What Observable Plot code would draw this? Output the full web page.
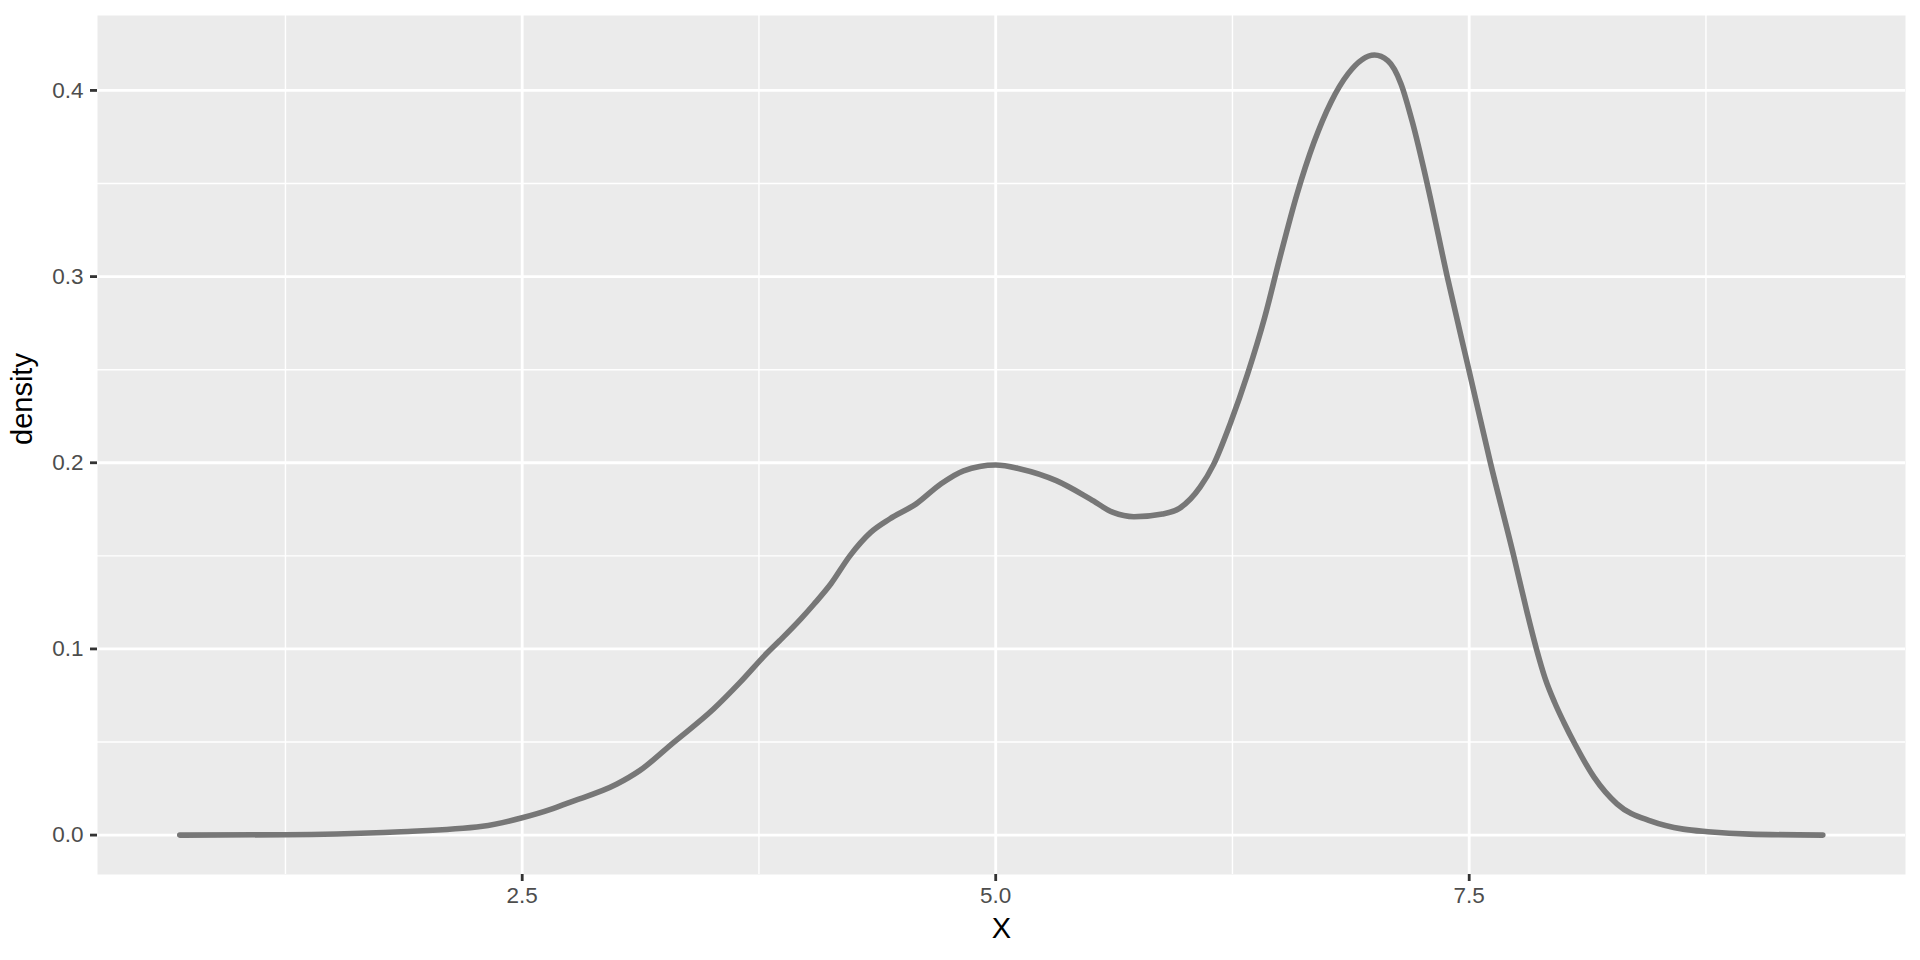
<!DOCTYPE html>
<html><head><meta charset="utf-8">
<script src="https://cdn.jsdelivr.net/npm/d3@7"></script>
<script src="https://cdn.jsdelivr.net/npm/@observablehq/plot@0.6"></script>
<style>html,body{margin:0;padding:0;background:#fff;} svg{display:block;}</style>
</head><body><div id="chart"></div>
<script>
// density curve values
const xs = [0.692, 1.25, 1.77, 1.86, 2.29, 2.5, 2.65, 2.74, 3.0, 3.12, 3.30, 3.51, 3.65, 3.79, 3.86, 3.97, 4.04, 4.13, 4.23, 4.34, 4.44, 4.58, 4.71, 4.83, 5.0, 5.13, 5.32, 5.50, 5.62, 5.73, 5.88, 5.97, 6.08, 6.15, 6.24, 6.33, 6.42, 6.50, 6.59, 6.68, 6.77, 6.86, 7.0, 7.07, 7.14, 7.20, 7.278, 7.384, 7.498, 7.612, 7.735, 7.80, 7.855, 7.90, 7.95, 8.00, 8.06, 8.16, 8.28, 8.46, 8.63, 8.76, 8.98, 9.367];
const ys = [0, 0.0002, 0.0014, 0.0018, 0.0047, 0.0093, 0.0138, 0.0172, 0.0274, 0.0346, 0.0498, 0.0677, 0.082, 0.0975, 0.1045, 0.1160, 0.124, 0.135, 0.150, 0.1626, 0.1698, 0.1779, 0.1886, 0.1957, 0.1988, 0.1967, 0.1904, 0.1805, 0.1733, 0.171, 0.1725, 0.1755, 0.1870, 0.1990, 0.2215, 0.2477, 0.278, 0.310, 0.344, 0.372, 0.3937, 0.4089, 0.4190, 0.416, 0.4035, 0.383, 0.350, 0.300, 0.250, 0.200, 0.150, 0.122, 0.100, 0.0845, 0.0715, 0.0605, 0.0485, 0.031, 0.0168, 0.0075, 0.0032, 0.0018, 0.0005, 0];
const xMajor = [2.5, 5.0, 7.5];
const xMinor = [1.25, 3.75, 6.25, 8.75];
const yMajor = [0, 0.1, 0.2, 0.3, 0.4];
const yMinor = [0.05, 0.15, 0.25, 0.35];
const xTitle = "X";
const yTitle = "density";

const data = xs.map((x, i) => ({x, y: ys[i]}));

const chart = Plot.plot({
  width: 1920, height: 960,
  marginLeft: 97, marginRight: 15, marginTop: 15, marginBottom: 86,
  style: {fontFamily: "'Liberation Sans', Arial, sans-serif", background: "#fff", overflow: "visible"},
  x: {domain: [0.2576, 9.8036]},
  y: {domain: [-0.02117, 0.44025]},
  marks: [
    Plot.frame({fill: "#EBEBEB", stroke: null}),
    Plot.ruleX(xMinor, {stroke: "#fff", strokeWidth: 1.4}),
    Plot.ruleY(yMinor, {stroke: "#fff", strokeWidth: 1.4}),
    Plot.ruleX(xMajor, {stroke: "#fff", strokeWidth: 2.8}),
    Plot.ruleY(yMajor, {stroke: "#fff", strokeWidth: 2.8}),
    Plot.axisX(xMajor, {tickSize: 7, tickPadding: 6, fontSize: 22.5, tickFormat: d => d.toFixed(1), label: null, stroke: "#333333", strokeWidth: 2.8, fill: "#4D4D4D"}),
    Plot.axisY(yMajor, {tickSize: 7, tickPadding: 7, fontSize: 22.5, tickFormat: d => d.toFixed(1), label: null, stroke: "#333333", strokeWidth: 2.8, fill: "#4D4D4D"}),
    Plot.line(data, {x: "x", y: "y", stroke: "#777777", strokeWidth: 5.6, curve: "monotone-x"}),
    Plot.text([xTitle], {text: d => d, frameAnchor: "bottom", dy: 54, fontSize: 29, fill: "#000", lineAnchor: "middle"}),
    Plot.text([yTitle], {text: d => d, frameAnchor: "left", dx: -75, rotate: -90, fontSize: 29, fill: "#000", lineAnchor: "middle"})
  ]
});
document.getElementById("chart").appendChild(chart);
</script>
</body></html>
